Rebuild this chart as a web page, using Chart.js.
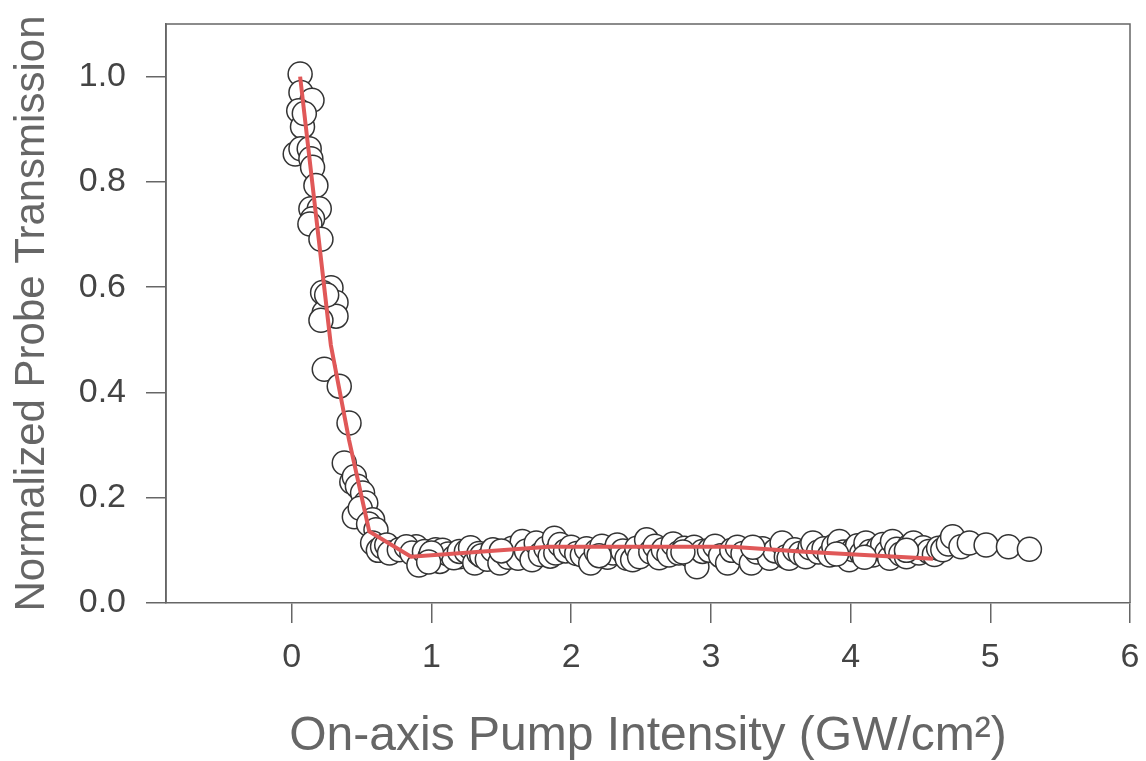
<!DOCTYPE html>
<html><head><meta charset="utf-8">
<script src="https://cdn.jsdelivr.net/npm/chart.js@4/dist/chart.umd.min.js"></script>
<style>html,body{margin:0;padding:0;background:#fff}#wrap{width:1146px;height:761px}</style>
</head><body><div id="wrap"><canvas id="c" width="1146" height="761"></canvas></div>
<script>
// Measured data: on-axis pump intensity (GW/cm^2) vs normalized probe transmission
const intensity = [
  0.06,0.066,0.145,0.05,0.077,0.09,0.025,0.066,0.125,0.137,0.149,0.173,0.137,0.197,0.149,0.13,0.209,
  0.281,0.221,0.317,0.233,0.317,0.209,0.25,0.233,0.34,0.41,0.376,0.43,0.448,0.47,0.507,0.53,0.448,0.49,
  0.579,0.55,0.603,0.579,0.62,0.65,0.68,0.7,0.77,0.89,0.925,1.056,1.2,
  0.82,0.86,0.91,0.95,0.99,1.03,1.06,1.08,1.12,1.16,1.2,1.25,1.28,1.31,1.34,1.36,1.40,1.44,1.49,1.52,
  1.55,1.58,1.62,1.65,1.68,1.72,1.75,1.78,1.82,1.85,1.88,1.89,1.92,1.96,2.0,2.04,2.08,2.11,2.14,2.18,
  2.22,2.26,2.30,2.33,2.37,2.40,2.44,2.47,2.49,2.54,2.57,2.60,2.63,2.66,2.70,2.73,2.77,2.81,2.85,2.88,
  2.90,2.94,2.99,3.03,3.07,3.12,3.15,3.19,3.23,3.29,3.33,3.37,3.42,3.46,3.51,3.54,3.56,3.60,3.64,3.68,
  3.71,3.73,3.77,3.81,3.85,3.88,3.92,3.95,3.99,4.02,4.05,4.08,4.11,4.14,4.16,4.20,4.23,4.26,4.28,4.30,
  4.33,4.36,4.40,4.42,4.45,4.49,4.52,4.56,4.60,4.63,4.66,4.70,4.73,4.79,4.85,4.97,5.13,5.28,
  1.0,1.5,2.2,2.8,3.3,3.9,4.1,4.4,0.98
];
const transmission = [
  1.005,0.97,0.955,0.935,0.905,0.93,0.853,0.863,0.863,0.844,0.828,0.793,0.749,0.749,0.73,0.72,0.691,
  0.599,0.59,0.571,0.552,0.545,0.537,0.585,0.444,0.412,0.342,0.266,0.23,0.24,0.222,0.209,0.19,0.164,0.18,
  0.158,0.15,0.139,0.114,0.1,0.107,0.11,0.095,0.101,0.107,0.076,0.082,0.088,
  0.107,0.095,0.072,0.098,0.088,0.101,0.079,0.10,0.093,0.086,0.098,0.098,0.105,0.076,0.094,0.09,0.083,0.101,0.076,0.097,
  0.087,0.104,0.085,0.117,0.099,0.082,0.114,0.092,0.104,0.089,0.123,0.095,0.111,0.099,0.106,0.094,0.091,0.103,0.076,0.098,
  0.108,0.087,0.095,0.11,0.099,0.085,0.082,0.104,0.088,0.12,0.097,0.108,0.086,0.101,0.091,0.112,0.095,0.104,0.091,0.106,
  0.069,0.098,0.10,0.108,0.09,0.076,0.1,0.106,0.094,0.076,0.097,0.103,0.085,0.099,0.114,0.088,0.085,0.101,0.094,0.088,
  0.105,0.114,0.097,0.103,0.091,0.108,0.117,0.097,0.082,0.101,0.109,0.094,0.114,0.098,0.091,0.104,0.111,0.096,0.085,0.117,
  0.102,0.093,0.088,0.108,0.114,0.095,0.105,0.098,0.092,0.104,0.101,0.112,0.126,0.107,0.114,0.11,0.107,0.102,
  0.095,0.099,0.09,0.097,0.106,0.093,0.087,0.1,0.078
];
// Fitted curve (red line)
const fitIntensity = [0.06,0.28,0.41,0.555,0.854,1.84,3.15,3.64,4.59];
const fitTransmission = [1.0,0.49,0.31,0.136,0.088,0.107,0.107,0.098,0.084];
// Tick labels
const xTicks = [0,1,2,3,4,5,6];
const yTicks = [0,0.2,0.4,0.6,0.8,1.0];

const points = intensity.map((x,i)=>({x:x,y:transmission[i]}));
const fit = fitIntensity.map((x,i)=>({x:x,y:fitTransmission[i]}));

const frame = {
  id:'frame',
  afterDatasetsDraw(chart){
    const a = chart.chartArea, ctx = chart.ctx;
    ctx.save();
    ctx.strokeStyle = '#666';
    ctx.lineWidth = 1.5;
    ctx.beginPath();
    ctx.moveTo(a.left, a.bottom);
    ctx.lineTo(a.left, a.top);
    ctx.lineTo(a.right, a.top);
    ctx.lineTo(a.right, a.bottom);
    ctx.stroke();
    ctx.restore();
  }
};

new Chart(document.getElementById('c'), {
  type:'scatter',
  data:{datasets:[
    {type:'line', data:fit, borderColor:'#e05858', borderWidth:4, pointRadius:0, fill:false, tension:0, order:0},
    {data:points, pointRadius:12, pointBorderWidth:1.5, pointBackgroundColor:'#ffffff', pointBorderColor:'#333333', pointHoverRadius:12, order:1}
  ]},
  options:{
    responsive:false, animation:false,
    layout:{padding:{left:0,right:16,top:24,bottom:0}},
    plugins:{legend:{display:false}, tooltip:{enabled:false}},
    scales:{
      x:{type:'linear', min:-0.9, max:6,
        afterBuildTicks(s){ s.ticks = xTicks.map(v=>({value:v})); },
        afterFit(s){ s.height = 158; s.paddingLeft = 0; s.paddingRight = 0; s.paddingTop = 0; s.paddingBottom = 0; },
        grid:{drawOnChartArea:false, tickLength:20, color:'#666', lineWidth:1.5},
        border:{color:'#666', width:1.5},
        ticks:{padding:14, color:'#444', font:{family:'"Liberation Sans", Arial, sans-serif', size:34}, callback:(v)=>String(v)},
        title:{display:true, text:'On-axis Pump Intensity (GW/cm²)', color:'#666', padding:{top:0,bottom:0},
          font:{family:'"Liberation Sans", Arial, sans-serif', size:48, lineHeight:1}}
      },
      y:{type:'linear', min:0, max:1.1,
        afterBuildTicks(s){ s.ticks = yTicks.map(v=>({value:v})); },
        afterFit(s){ s.width = 166; s.paddingLeft = 0; s.paddingRight = 0; s.paddingTop = 0; s.paddingBottom = 0; },
        grid:{drawOnChartArea:false, tickLength:20, color:'#666', lineWidth:1.5},
        border:{color:'#666', width:1.5},
        ticks:{padding:20, color:'#444', font:{family:'"Liberation Sans", Arial, sans-serif', size:34}, callback:(v)=>Number(v).toFixed(1)},
        title:{display:true, text:'Normalized Probe Transmission', color:'#666', padding:{top:11,bottom:0},
          font:{family:'"Liberation Sans", Arial, sans-serif', size:42, lineHeight:1}}
      }
    }
  },
  plugins:[frame]
});
</script>
</body></html>
